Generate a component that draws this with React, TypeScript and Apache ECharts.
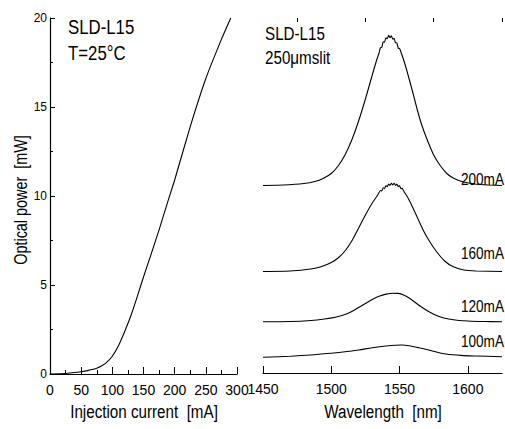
import React, { useEffect, useRef } from "react";
import * as echarts from "echarts";

// ---- L-I curve ----
const current = [0, 25, 40, 50, 60, 75, 85, 90, 100, 110, 120, 130, 140, 150, 160, 175, 190, 200, 225, 250, 275, 290];
const power = [0, 0.03, 0.08, 0.13, 0.19, 0.32, 0.5, 0.62, 1.0, 1.6, 2.4, 3.3, 4.35, 5.45, 6.5, 8.1, 9.8, 10.9, 13.9, 16.6, 18.8, 20.0];

// ---- Spectra (offset intensity, a.u.) ----
const wl200 = [1450, 1465, 1480, 1488, 1494, 1500, 1505, 1510, 1515, 1520, 1525, 1530, 1533,
  1535, 1536, 1537, 1538, 1539, 1540, 1541, 1542, 1543, 1544, 1545, 1546, 1547, 1548, 1549, 1550, 1551,
  1553, 1555, 1557, 1560, 1563, 1566, 1570, 1575, 1580, 1585, 1590, 1597, 1605, 1615, 1625];
const int200 = [187.5, 188, 189.5, 191.5, 194.5, 199.5, 207, 218, 233, 252, 274, 298, 312,
  320, 325.2, 325.8, 331.2, 330.8, 335.2, 334.3, 337.7, 335.3, 337.2, 333.8, 334.7, 330.3, 330.2, 324.8, 324.5, 321,
  313, 304, 294, 279, 263, 249, 234, 218, 207, 199, 194.5, 191, 189, 188, 187.5];

const wl160 = [1450, 1470, 1485, 1493, 1500, 1505, 1510, 1515, 1520, 1525, 1530, 1534,
  1536, 1537, 1538, 1539, 1540, 1541, 1542, 1543, 1544, 1545, 1546, 1547, 1548, 1549, 1550, 1551, 1552, 1553,
  1556, 1560, 1564, 1568, 1572, 1577, 1583, 1589, 1597, 1606, 1625];
const int160 = [101.5, 102, 104, 106.5, 110.5, 115, 122, 132, 145, 158, 170, 178,
  182.5, 182, 185.3, 184.5, 187.5, 186.3, 189, 187.5, 189.8, 188, 189.8, 187.5, 189, 186.3, 187.5, 184.2, 184.7, 182,
  175.5, 164.5, 152.5, 141, 131.5, 121.5, 112, 106.5, 103, 102, 101.5];

const wl120 = [1450, 1470, 1485, 1495, 1503, 1510, 1515, 1520, 1525, 1530, 1535, 1540, 1545, 1549, 1553, 1557,
  1561, 1565, 1570, 1575, 1580, 1585, 1592, 1600, 1612, 1625];
const int120 = [51.3, 51.5, 52.5, 54, 55.8, 58.5, 61.5, 65.5, 69.5, 73.5, 76.8, 78.9, 79.8, 79.6, 78, 75,
  71, 67, 62.5, 58.8, 56, 54.2, 52.8, 52, 51.5, 51.3];

const wl100 = [1450, 1470, 1485, 1500, 1510, 1520, 1530, 1540, 1547, 1552, 1557, 1563, 1570, 1577, 1584, 1595, 1606, 1625];
const int100 = [15.7, 16.8, 18, 19.8, 21.2, 23, 25.2, 27, 27.8, 28, 27.3, 25.6, 23.5, 21, 19, 17.6, 17, 16.3];

const curLabels = ["200mA", "160mA", "120mA", "100mA"];

const FONT = "'Liberation Sans', Arial, sans-serif";
const NARROW = 0.8;

const zip = (a: number[], b: number[]) => a.map((v, i) => [v, b[i]]);

export default function App() {
  const ref = useRef<HTMLDivElement>(null);
  useEffect(() => {
    document.body.style.margin = "0";
    if (!ref.current) return;
    const chart = echarts.init(ref.current, null, { renderer: "svg" });
    const lineStyle = { color: "#000", width: 1.1 };
    const txt = (text: string, x: number, y: number, size: number, align = "left", rotation = 0) => ({
      type: "text",
      x,
      y,
      rotation,
      scaleX: NARROW,
      style: {
        text,
        fontSize: size,
        fontFamily: FONT,
        fill: "#000",
        align,
        textAlign: align,
        verticalAlign: "middle",
        textVerticalAlign: "middle",
      },
    });
    const labelY = [179, 252.5, 306, 341];
    const axisLine = { lineStyle: { color: "#000", width: 1.2 } };
    chart.setOption({
      animation: false,
      backgroundColor: "#fff",
      grid: [
        { left: 50, width: 187, top: 18, bottom: 55 },
        { left: 263, right: 3, top: 18, bottom: 56 },
      ],
      xAxis: [
        {
          gridIndex: 0,
          type: "value",
          min: 0,
          max: 300,
          interval: 50,
          axisLine,
          axisTick: { inside: true, length: 7, lineStyle: { color: "#000" } },
          minorTick: { show: true, splitNumber: 2, length: 4, lineStyle: { color: "#000" } },
          axisLabel: { fontFamily: FONT, fontSize: 14, color: "#000", margin: 9 },
          splitLine: { show: false },
        },
        {
          gridIndex: 1,
          type: "value",
          min: 1450,
          max: 1625,
          interval: 50,
          axisLine,
          axisTick: { inside: true, length: 7, lineStyle: { color: "#000" }, customValues: [1450, 1500, 1550, 1600] },
          axisLabel: {
            fontFamily: FONT,
            fontSize: 14,
            color: "#000",
            margin: 9,
            customValues: [1450, 1500, 1550, 1600],
            formatter: (v: number) => (v % 50 === 0 ? String(v) : ""),
          },
          splitLine: { show: false },
        },
        {
          gridIndex: 1,
          type: "value",
          min: 1450,
          max: 1625,
          interval: 25,
          axisLine: { show: false },
          axisTick: { inside: true, length: 4, lineStyle: { color: "#000" }, customValues: [1475, 1525, 1575, 1625] },
          axisLabel: { show: false },
          splitLine: { show: false },
        },
      ],
      yAxis: [
        {
          gridIndex: 0,
          type: "value",
          min: 0,
          max: 20,
          interval: 5,
          axisLine: { show: true, ...axisLine },
          axisTick: { show: true, inside: true, length: 5, lineStyle: { color: "#000" } },
          minorTick: { show: true, splitNumber: 2, length: 3, lineStyle: { color: "#000" } },
          axisLabel: { fontFamily: FONT, fontSize: 12, color: "#000", margin: 3 },
          splitLine: { show: false },
        },
        {
          gridIndex: 1,
          type: "value",
          min: 0,
          max: 355,
          show: false,
          splitLine: { show: false },
        },
      ],
      series: [
        { type: "line", xAxisIndex: 0, yAxisIndex: 0, data: zip(current, power), symbol: "none", smooth: 0.2, lineStyle },
        { type: "line", xAxisIndex: 1, yAxisIndex: 1, data: zip(wl200, int200), symbol: "none", smooth: 0.15, lineStyle },
        { type: "line", xAxisIndex: 1, yAxisIndex: 1, data: zip(wl160, int160), symbol: "none", smooth: 0.15, lineStyle },
        { type: "line", xAxisIndex: 1, yAxisIndex: 1, data: zip(wl120, int120), symbol: "none", smooth: 0.3, lineStyle },
        { type: "line", xAxisIndex: 1, yAxisIndex: 1, data: zip(wl100, int100), symbol: "none", smooth: 0.3, lineStyle },
      ],
      graphic: [
        txt("SLD-L15", 68, 27, 21),
        txt("T=25°C", 68, 53, 21),
        txt("SLD-L15", 265, 33, 19),
        txt("250μmslit", 265, 57.5, 19),
        ...curLabels.map((t, i) => txt(t, 504, labelY[i], 17, "right")),
        txt("Injection current  [mA]", 144, 411, 19, "center"),
        txt("Wavelength  [nm]", 383, 411, 19, "center"),
        txt("Optical power  [mW]", 20, 200, 18, "center", Math.PI / 2),
      ],
    });
    return () => chart.dispose();
  }, []);
  return <div ref={ref} style={{ width: 505, height: 429 }} />;
}
